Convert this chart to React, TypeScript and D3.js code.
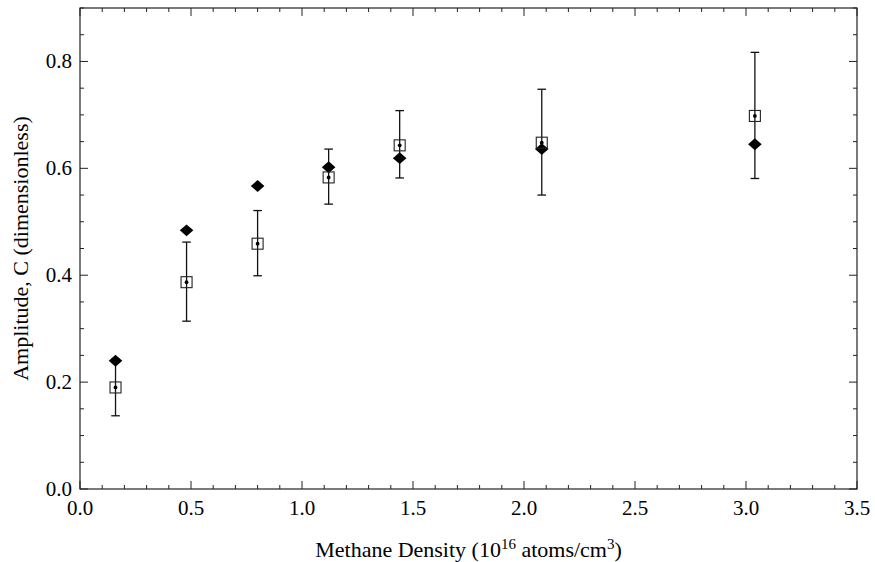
import React from "react";
import * as d3 from "d3";

const densities = [0.16, 0.48, 0.8, 1.12, 1.44, 2.08, 3.04];
const amplitudeMeasured = [0.19, 0.387, 0.459, 0.583, 0.643, 0.648, 0.698];
const errLow = [0.137, 0.314, 0.399, 0.533, 0.582, 0.55, 0.581];
const errHigh = [0.243, 0.462, 0.521, 0.636, 0.708, 0.748, 0.817];
const amplitudeModel = [0.24, 0.484, 0.567, 0.602, 0.619, 0.636, 0.645];
const xTicks = [0, 0.5, 1, 1.5, 2, 2.5, 3, 3.5];
const yTicks = [0, 0.2, 0.4, 0.6, 0.8];

const W = 875, H = 562;
const L = 80, R = 857, T = 8, B = 489;
const FONT = "'Liberation Serif', 'Times New Roman', serif";

export default function App() {
  const x = d3.scaleLinear().domain([0, 3.5]).range([L, R]);
  const y = d3.scaleLinear().domain([0, 0.9]).range([B, T]);
  const xMinor = d3.range(0, 3.5001, 0.1).map((v) => +v.toFixed(2));
  const yMinor = d3.range(0, 0.9001, 0.05).map((v) => +v.toFixed(3));
  const isMajX = (v: number) => Math.abs(v * 2 - Math.round(v * 2)) < 1e-6;
  const isMajY = (v: number) => Math.abs(v * 5 - Math.round(v * 5)) < 1e-6;
  const dType = (d3 as any).symbolDiamond2 || d3.symbolSquare;
  const diamond = d3.symbol().type(dType).size(118)();
  const stroke = "#111";
  return (
    <svg width={W} height={H} style={{ position: "absolute", left: 0, top: 0, background: "#fff" }}>
      <rect x={L} y={T} width={R - L} height={B - T} fill="none" stroke="#222" strokeWidth={1.2} />
      {xMinor.map((v, i) => {
        const len = isMajX(v) ? 8 : 4;
        return (
          <g key={"xt" + i} stroke="#222" strokeWidth={1}>
            <line x1={x(v)} x2={x(v)} y1={B} y2={B - len} />
            <line x1={x(v)} x2={x(v)} y1={T} y2={T + len} />
          </g>
        );
      })}
      {yMinor.map((v, i) => {
        const len = isMajY(v) ? 8 : 4;
        return (
          <g key={"yt" + i} stroke="#222" strokeWidth={1}>
            <line x1={L} x2={L + len} y1={y(v)} y2={y(v)} />
            <line x1={R} x2={R - len} y1={y(v)} y2={y(v)} />
          </g>
        );
      })}
      {xTicks.map((v) => (
        <text key={"xl" + v} x={x(v)} y={B + 26} textAnchor="middle" fontFamily={FONT} fontSize={21} fill="#000">
          {v.toFixed(1)}
        </text>
      ))}
      {yTicks.map((v) => (
        <text key={"yl" + v} x={L - 8} y={y(v) + 7} textAnchor="end" fontFamily={FONT} fontSize={21} fill="#000">
          {v.toFixed(1)}
        </text>
      ))}
      <text x={(L + R) / 2} y={557} textAnchor="middle" fontFamily={FONT} fontSize={22} fill="#000">
        Methane Density (10<tspan fontSize={15} dy={-8}>16</tspan>
        <tspan dy={8}> atoms/cm</tspan>
        <tspan fontSize={15} dy={-8}>3</tspan>
        <tspan dy={8}>)</tspan>
      </text>
      <text
        transform={`translate(28,${(T + B) / 2}) rotate(-90)`}
        textAnchor="middle"
        fontFamily={FONT}
        fontSize={22}
        fill="#000"
      >
        Amplitude, C (dimensionless)
      </text>
      {densities.map((d, i) => (
        <g key={"e" + i} stroke={stroke} strokeWidth={1.3}>
          <line x1={x(d)} x2={x(d)} y1={y(errLow[i])} y2={y(errHigh[i])} />
          <line x1={x(d) - 4.3} x2={x(d) + 4.3} y1={y(errLow[i])} y2={y(errLow[i])} />
          <line x1={x(d) - 4.3} x2={x(d) + 4.3} y1={y(errHigh[i])} y2={y(errHigh[i])} />
        </g>
      ))}
      {densities.map((d, i) => (
        <path key={"m" + i} d={diamond || ""} transform={`translate(${x(d)},${y(amplitudeModel[i])}) scale(1,0.87)`} fill="#000" />
      ))}
      {densities.map((d, i) => (
        <g key={"s" + i}>
          <rect x={x(d) - 5.5} y={y(amplitudeMeasured[i]) - 5.5} width={11} height={11} fill="none" stroke="#222" strokeWidth={1.1} />
          <circle cx={x(d)} cy={y(amplitudeMeasured[i])} r={1.9} fill="#000" />
        </g>
      ))}
    </svg>
  );
}
